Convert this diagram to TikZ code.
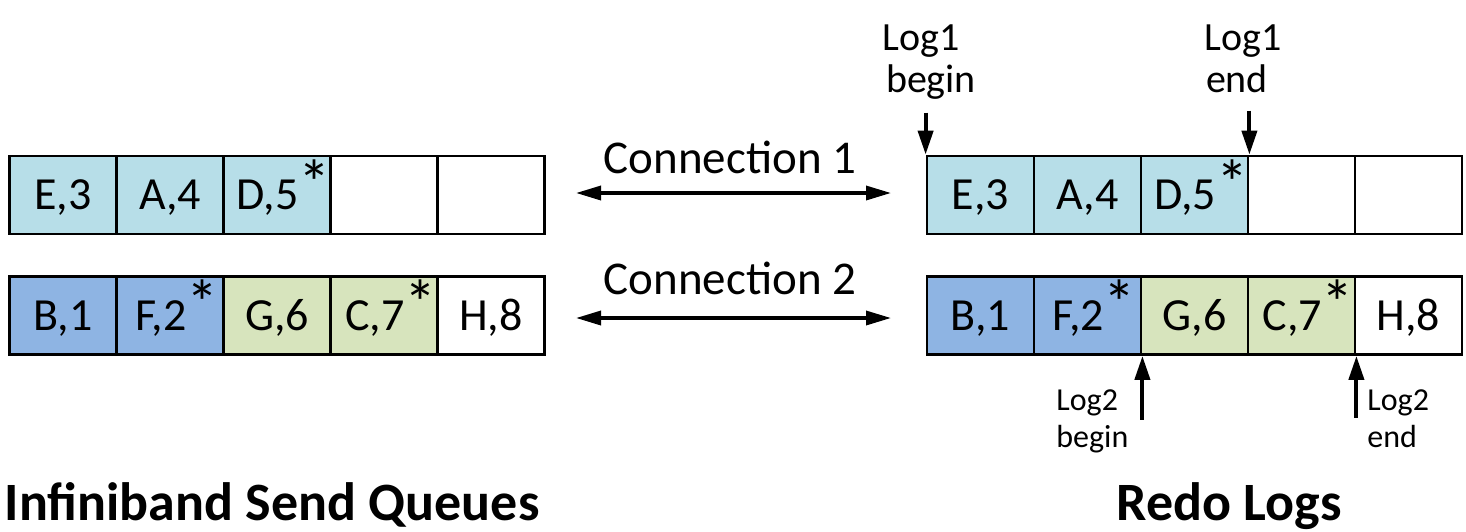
\documentclass[tikz,border=0pt]{standalone}
\usepackage{fontspec}
\setmainfont{Carlito}
\usetikzlibrary{arrows.meta}
\definecolor{qcyan}{HTML}{B7DEE8}
\definecolor{qblue}{HTML}{8EB4E3}
\definecolor{qgreen}{HTML}{D7E4BD}
\newcommand\mk{\makebox[0.4em][l]{\raisebox{0.1em}{\scalebox{1.4}{*}}}}
\begin{document}
\begin{tikzpicture}[x=0.5pt,y=-0.5pt,
  cell/.style={draw,line width=1.4pt,minimum width=53.5pt,minimum height=39pt,
    inner sep=0pt,text height=14.8pt,text depth=0pt,font=\fontsize{23}{28}\selectfont},
  conn/.style={{Triangle[length=12.5pt,width=7pt]}-{Triangle[length=12.5pt,width=7pt]},line width=1.7pt},
  ptr/.style={-{Triangle[length=12pt,width=7.5pt]},line width=2pt},
  connlbl/.style={anchor=base,inner sep=0pt,font=\fontsize{23.5}{28}\selectfont},
  biglbl/.style={anchor=base,inner sep=0pt,font=\fontsize{20}{24}\selectfont},
  smalllbl/.style={anchor=base west,inner sep=0pt,font=\fontsize{16}{19}\selectfont},
  title/.style={anchor=base,inner sep=0pt,font=\fontsize{27}{32}\selectfont\bfseries}]
\useasboundingbox (0,0) rectangle (1466,531);

% send queues
\node[cell,fill=qcyan] (l11) at (63,195) {E,3};
\node[cell,fill=qcyan] (l12) at (170,195) {A,4};
\node[cell,fill=qcyan] (l13) at (277,195) {D,5\mk};
\node[cell] (l14) at (384,195) {};
\node[cell] (l15) at (491,195) {};
\node[cell,fill=qblue] (l21) at (63,315.5) {B,1};
\node[cell,fill=qblue] (l22) at (170,315.5) {F,2\mk};
\node[cell,fill=qgreen] (l23) at (277,315.5) {G,6};
\node[cell,fill=qgreen] (l24) at (384,315.5) {C,7\mk};
\node[cell] (l25) at (491,315.5) {H,8};

% redo logs
\node[cell,fill=qcyan] (r11) at (980.5,195) {E,3};
\node[cell,fill=qcyan] (r12) at (1087.5,195) {A,4};
\node[cell,fill=qcyan] (r13) at (1194.5,195) {D,5\mk};
\node[cell] (r14) at (1301.5,195) {};
\node[cell] (r15) at (1408.5,195) {};
\node[cell,fill=qblue] (r21) at (980.5,315.5) {B,1};
\node[cell,fill=qblue] (r22) at (1087.5,315.5) {F,2\mk};
\node[cell,fill=qgreen] (r23) at (1194.5,315.5) {G,6};
\node[cell,fill=qgreen] (r24) at (1301.5,315.5) {C,7\mk};
\node[cell] (r25) at (1408.5,315.5) {H,8};

% connections
\node[connlbl] (cn1) at (730,173) {Connection 1};
\node[connlbl] (cn2) at (730,294) {Connection 2};
\coordinate (c1l) at (576,193);
\coordinate (c1r) at (891,193);
\coordinate (c2l) at (576,318);
\coordinate (c2r) at (891,318);
\draw[conn] (c1l) -- (c1r);
\draw[conn] (c2l) -- (c2r);

% log pointers
\draw[ptr] ([yshift=21pt]r11.north west) -- (r11.north west);
\draw[ptr] ([yshift=22pt]r13.north east) -- (r13.north east);
\draw[ptr] ([yshift=-32pt]r22.south east) -- (r22.south east);
\draw[ptr] ([yshift=-31pt]r24.south east) -- (r24.south east);

\node[biglbl] (l1bA) at (921,50) {Log1};
\node[biglbl] (l1bB) at (931,92) {begin};
\node[biglbl] (l1eA) at (1243,50) {Log1};
\node[biglbl] (l1eB) at (1237,92) {end};
\node[smalllbl] (l2bA) at (1056,410) {Log2};
\node[smalllbl] (l2bB) at (1056,447) {begin};
\node[smalllbl] (l2eA) at (1367,410) {Log2};
\node[smalllbl] (l2eB) at (1367,447) {end};

% titles
\node[title] (tq) at (272,520) {Infiniband Send Queues};
\node[title] (tr) at (1229,520) {Redo Logs};
\end{tikzpicture}
\end{document}
